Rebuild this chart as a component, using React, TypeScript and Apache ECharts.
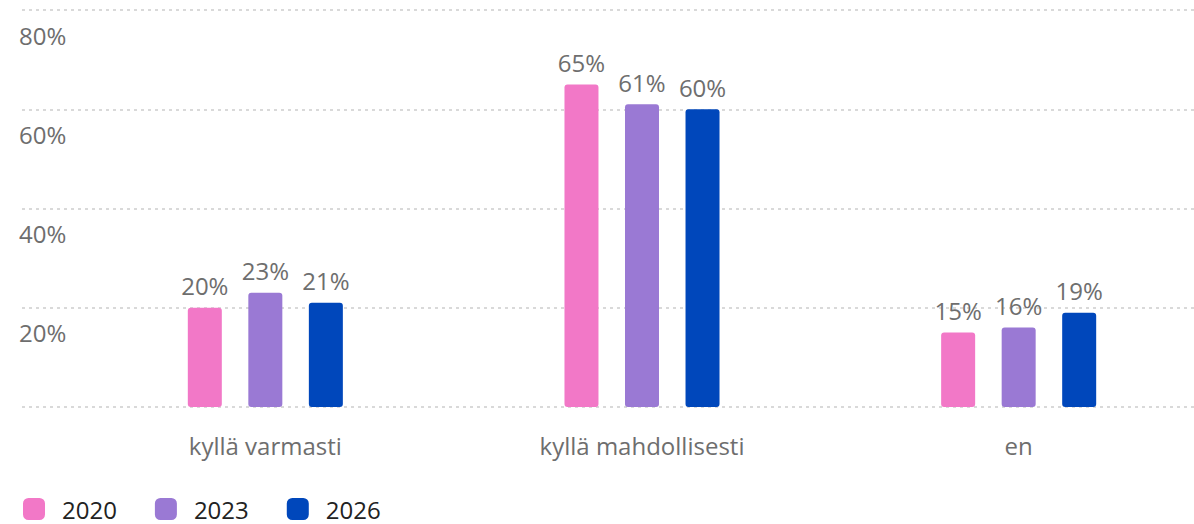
import React, { useEffect, useRef } from "react";
import * as echarts from "echarts";

const categories = ["kyllä varmasti", "kyllä mahdollisesti", "en"];
const years = ["2020", "2023", "2026"];
const values2020 = [20, 65, 15];
const values2023 = [23, 61, 16];
const values2026 = [21, 60, 19];
const colors = ["#F278C7", "#9A79D4", "#0047BB"];
const yTicks = [0, 20, 40, 60, 80];

const FONT = "'Open Sans', sans-serif";

export default function App() {
  const ref = useRef<HTMLDivElement>(null);
  useEffect(() => {
    document.body.style.margin = "0";
    const chart = echarts.init(ref.current!, undefined, { renderer: "svg" });
    const seriesData = [values2020, values2023, values2026];
    chart.setOption({
      animation: false,
      textStyle: { fontFamily: FONT },
      legend: {
        data: years,
        left: 18,
        top: 492,
        icon: "roundRect",
        itemWidth: 22,
        itemHeight: 22,
        itemGap: 38,
        textStyle: { fontSize: 24, color: "#222", fontFamily: FONT, padding: [0, 0, 0, 12] },
      },
      grid: [
        { left: 22, right: 26, top: 10, bottom: 117, containLabel: false },
        { left: 77, right: 13, top: 10, bottom: 117, containLabel: false },
      ],
      xAxis: [
        { type: "category", gridIndex: 0, data: categories, show: false },
        {
          type: "category",
          gridIndex: 1,
          data: categories,
          axisLine: { show: false },
          axisTick: { show: false },
          axisLabel: { fontSize: 24, color: "#6e6e6e", margin: 26, fontFamily: FONT },
        },
      ],
      yAxis: [
        {
          type: "value",
          gridIndex: 0,
          min: yTicks[0],
          max: yTicks[yTicks.length - 1],
          interval: 20,
          axisLine: { show: false },
          axisTick: { show: false },
          splitLine: { show: true, lineStyle: { color: "#d9d9d9", width: 2, type: [3, 4] } },
          axisLabel: {
            inside: true,
            margin: -3,
            fontSize: 24,
            color: "#6e6e6e",
            fontFamily: FONT,
            verticalAlign: "top",
            lineHeight: 50,
            formatter: (v: number) => (v === 0 ? "" : v + "%"),
          },
        },
        {
          type: "value",
          gridIndex: 1,
          min: yTicks[0],
          max: yTicks[yTicks.length - 1],
          interval: 20,
          show: false,
          splitLine: { show: false },
        },
      ],
      series: years.map((y, i) => ({
        name: y,
        type: "bar",
        xAxisIndex: 1,
        yAxisIndex: 1,
        data: seriesData[i],
        barWidth: 34,
        barGap: "78%",
        itemStyle: { color: colors[i], borderRadius: 3 },
        label: {
          show: true,
          position: "top",
          distance: 10,
          formatter: "{c}%",
          fontSize: 24,
          color: "#6e6e6e",
          fontFamily: FONT,
        },
      })),
    });
    return () => chart.dispose();
  }, []);
  return (
    <div style={{ width: 1194, height: 524, overflow: "hidden" }}>
      <div ref={ref} style={{ width: 1220, height: 524 }} />
    </div>
  );
}
